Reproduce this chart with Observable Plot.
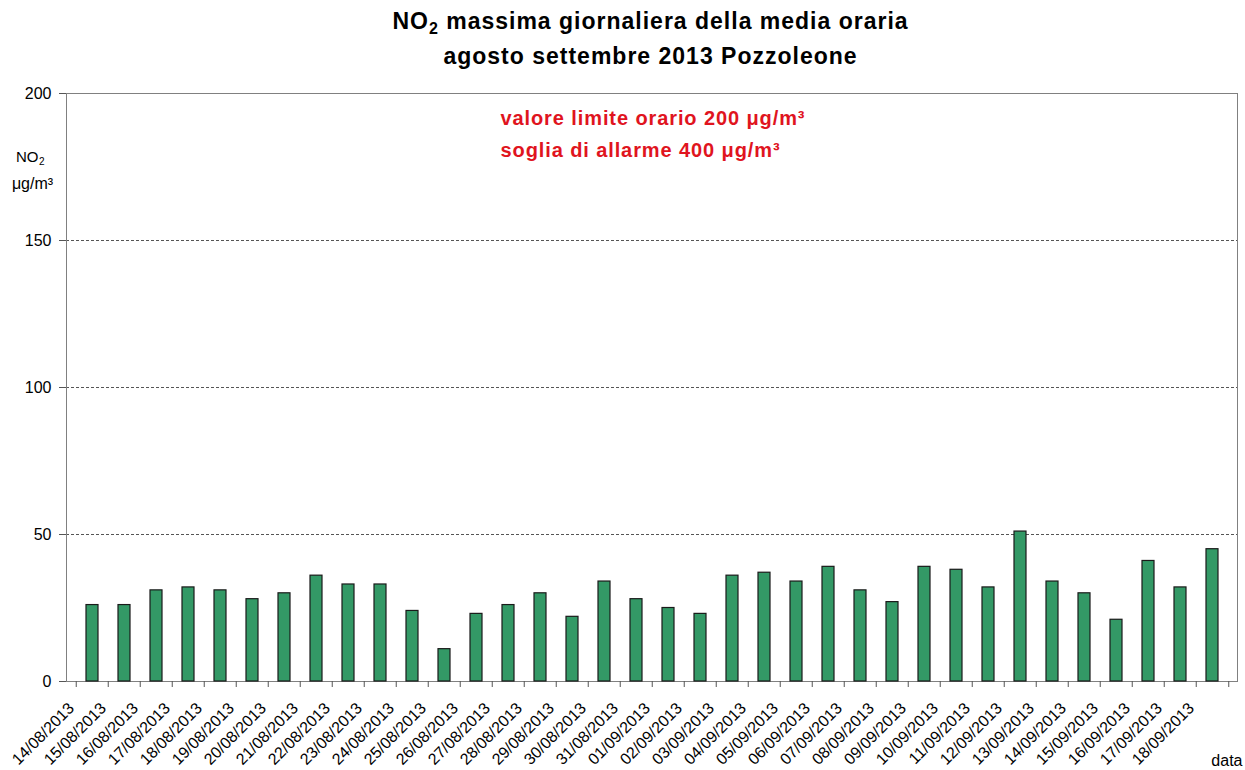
<!DOCTYPE html>
<html>
<head>
<meta charset="utf-8">
<script src="https://cdn.jsdelivr.net/npm/d3@7"></script>
<script src="https://cdn.jsdelivr.net/npm/@observablehq/plot@0.6"></script>
<style>
  body { margin: 0; background: #fff; font-family: "Liberation Sans", Arial, sans-serif; }
  #wrap { width: 1245px; position: relative; }
  #title { position: relative; height: 85px; }
  #title div { position: absolute; left: 28px; width: 1245px; text-align: center; font-weight: bold; font-size: 23px; letter-spacing: 1px; color: #000; line-height: 27px; }
  #t1 { top: 8px; }
  #t2 { top: 43px; }
  sub { font-size: 16px; vertical-align: -5px; line-height: 0; }
</style>
</head>
<body>
<div id="wrap">
  <div id="title">
    <div id="t1">NO<sub>2</sub> massima giornaliera della media oraria</div>
    <div id="t2">agosto settembre 2013 Pozzoleone</div>
  </div>
  <div id="chart"></div>
</div>
<script>
const dates = [
  "14/08/2013","15/08/2013","16/08/2013","17/08/2013","18/08/2013","19/08/2013",
  "20/08/2013","21/08/2013","22/08/2013","23/08/2013","24/08/2013","25/08/2013",
  "26/08/2013","27/08/2013","28/08/2013","29/08/2013","30/08/2013","31/08/2013",
  "01/09/2013","02/09/2013","03/09/2013","04/09/2013","05/09/2013","06/09/2013",
  "07/09/2013","08/09/2013","09/09/2013","10/09/2013","11/09/2013","12/09/2013",
  "13/09/2013","14/09/2013","15/09/2013","16/09/2013","17/09/2013","18/09/2013"
];
const values = [
  26, 26, 31, 32, 31, 28,
  30, 36, 33, 33, 24, 11,
  23, 26, 30, 22, 34, 28,
  25, 23, 36, 37, 34, 39,
  31, 27, 39, 38, 32, 51,
  34, 30, 21, 41, 32, 45
];
const yTicks = [0, 50, 100, 150, 200];
const gridValues = [50, 100, 150];
const noteLines = ["valore limite orario 200 μg/m³", "soglia di allarme 400 μg/m³"];

const data = dates.map((d, i) => ({date: d, value: values[i]}));

const W = 1245, H = 685;
const mL = 66, mR = 8, mT = 8, mB = 89;
const step = (W - mL - mR) / dates.length;

const chart = Plot.plot({
  width: W,
  height: H,
  marginLeft: mL,
  marginRight: mR,
  marginTop: mT,
  marginBottom: mB,
  style: {fontFamily: "'Liberation Sans', Arial, sans-serif", color: "#000", background: "#fff"},
  x: {type: "band", domain: dates, paddingInner: 0.63, paddingOuter: 0.315, label: null},
  y: {domain: [0, 200], label: null},
  marks: [
    Plot.gridY(gridValues, {stroke: "#555", strokeOpacity: 1, strokeDasharray: "3,2"}),
    Plot.frame({stroke: "#808080"}),
    Plot.barY(data, {x: "date", y: "value", fill: "#339966", stroke: "#1a1a1a", strokeWidth: 1.2}),
    Plot.axisY(yTicks, {tickSize: 7, tickPadding: 8, fontSize: 16, label: null, stroke: "#555"}),
    Plot.axisX({tickSize: 6, tickFormat: () => "", dx: -step / 2, label: null, stroke: "#555"}),
    Plot.axisX([dates[dates.length - 1]], {tickSize: 6, tickFormat: () => "", dx: step / 2, label: null, stroke: "#555"}),
    Plot.axisX({tickSize: 0, tickRotate: -45, fontSize: 16, tickPadding: 0, dx: -21, dy: 24, label: null}),
    Plot.text(["NO"], {frameAnchor: "top-left", textAnchor: "end", lineAnchor: "middle", dx: -28, dy: 64, fontSize: 15, fill: "#000"}),
    Plot.text(["2"], {frameAnchor: "top-left", textAnchor: "start", lineAnchor: "middle", dx: -27.5, dy: 68, fontSize: 10, fill: "#000"}),
    Plot.text(["μg/m³"], {frameAnchor: "top-left", textAnchor: "middle", lineAnchor: "middle", dx: -34, dy: 90, fontSize: 16, fill: "#000"}),
    Plot.text([noteLines[0]], {frameAnchor: "top-left", textAnchor: "start", lineAnchor: "middle", dx: 434, dy: 25, fontSize: 20, fontWeight: "bold", fill: "#e0141e"}),
    Plot.text([noteLines[1]], {frameAnchor: "top-left", textAnchor: "start", lineAnchor: "middle", dx: 434, dy: 57, fontSize: 20, fontWeight: "bold", fill: "#e0141e"}),
    Plot.text(["data"], {frameAnchor: "bottom-right", textAnchor: "end", lineAnchor: "middle", dx: 5, dy: 79, fontSize: 16, fill: "#000"})
  ]
});
d3.select(chart).selectAll("text")
  .filter(function() { return noteLines.includes(this.textContent); })
  .style("letter-spacing", "0.9px");
document.getElementById("chart").appendChild(chart);
</script>
</body>
</html>
